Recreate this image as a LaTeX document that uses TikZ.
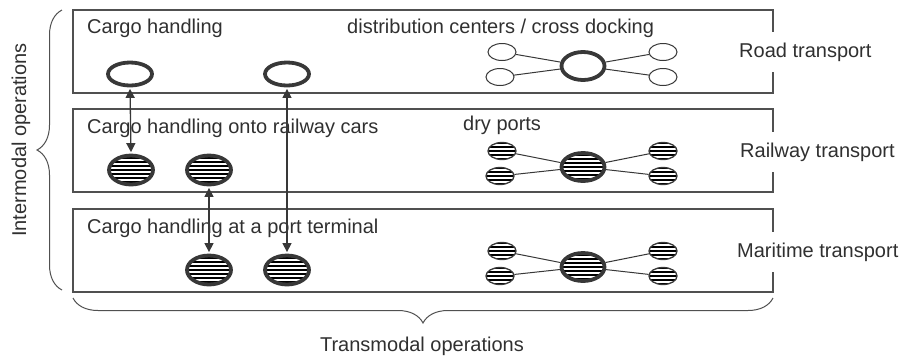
\documentclass[tikz,border=0pt]{standalone}
\usepackage{fontspec}
\setmainfont{Liberation Sans}
\usetikzlibrary{shapes.geometric,arrows.meta,decorations.pathreplacing}
\definecolor{boxgray}{HTML}{505050}
\definecolor{inkgray}{HTML}{383838}
\definecolor{txtgray}{HTML}{303030}
\tikzset{
  lbl/.style={font=\fontsize{20}{24}\selectfont, text=txtgray, inner sep=0pt},
  modebox/.style={draw=boxgray, line width=1.4pt},
  modelbl/.style={lbl, fill=white, anchor=west, minimum height=40pt, inner xsep=0pt},
  stripes/.style={path picture={
      \foreach \k in {-7,...,7}
        \draw[line width=2pt, black] (path picture bounding box.center) ++(-40pt,\k*4pt) -- ++(80pt,0pt);}},
  bigring/.style={ellipse, draw=inkgray, line width=3.8pt, fill=white, inner sep=0pt,
      minimum width=44pt, minimum height=23pt},
  bighatch/.style={ellipse, draw=inkgray, line width=3.8pt, fill=white, inner sep=0pt,
      minimum width=44pt, minimum height=29pt, stripes},
  hubring/.style={ellipse, draw=inkgray, line width=3.8pt, fill=white, inner sep=0pt,
      minimum width=43pt, minimum height=28pt},
  hubhatch/.style={hubring, stripes},
  smallring/.style={ellipse, draw=inkgray, line width=1pt, fill=white, inner sep=0pt,
      minimum width=28pt, minimum height=17pt},
  smallhatch/.style={smallring, line width=1.3pt, stripes},
  link/.style={draw=inkgray, line width=1pt},
  xfer/.style={draw=inkgray, line width=1.3pt, shorten <=1.5pt, shorten >=1.5pt,
      {Triangle[length=9pt,width=9pt]}-{Triangle[length=9pt,width=9pt]}},
  bracedeco/.style={draw=boxgray, line width=1pt, decorate, decoration={brace, amplitude=25pt}},
}
\begin{document}
\begin{tikzpicture}[x=1pt, y=-1pt]
\useasboundingbox (0,0) rectangle (908,360);

% mode boxes
\draw[modebox] (73,10) rectangle (773,93);
\draw[modebox] (73,109) rectangle (773,192);
\draw[modebox] (73,209) rectangle (773,292);

% mode labels (white background breaks the right edge)
\node[modelbl] (roadlbl) at (739,52) {Road transport};
\node[modelbl] (raillbl) at (740,152) {Railway transport};
\node[modelbl] (marlbl) at (737,252) {Maritime transport};

% headings
\node[lbl, anchor=base west] (h1) at (87,33) {Cargo handling};
\node[lbl, anchor=base west] (h2) at (347,33) {distribution centers / cross docking};
\node[lbl, anchor=base west] (h3) at (87,133) {Cargo handling onto railway cars};
\node[lbl, anchor=base west] (h4) at (463,130) {dry ports};
\node[lbl, anchor=base west] (h5) at (87,233) {Cargo handling at a port terminal};

% handling nodes
\node[bigring] (ro1) at (130,74) {};
\node[bigring] (ro2) at (287,74) {};
\node[bighatch] (ra1) at (131,170) {};
\node[bighatch] (ra2) at (209,170) {};
\node[bighatch] (ma1) at (209,270) {};
\node[bighatch] (ma2) at (287,270) {};

% transfers
\draw[xfer] (ro1.south) -- (ra1.north);
\draw[xfer] (ra2.south) -- (ma1.north);
\draw[xfer] (ro2.south) -- (ma2.north);

% road network
\node[hubring] (rc) at (583,66) {};
\node[smallring] (rlt) at (502,52) {};
\node[smallring] (rlb) at (500,77) {};
\node[smallring] (rrt) at (663,52) {};
\node[smallring] (rrb) at (663,77) {};
\draw[link] (rlt) -- (rc);
\draw[link] (rlb) -- (rc);
\draw[link] (rrt) -- (rc);
\draw[link] (rrb) -- (rc);

% rail network
\node[hubhatch] (lc) at (583,167) {};
\node[smallhatch] (llt) at (502,151) {};
\node[smallhatch] (llb) at (500,176) {};
\node[smallhatch] (lrt) at (663,151) {};
\node[smallhatch] (lrb) at (663,176) {};
\draw[link] (llt) -- (lc);
\draw[link] (llb) -- (lc);
\draw[link] (lrt) -- (lc);
\draw[link] (lrb) -- (lc);

% maritime network
\node[hubhatch] (mc) at (583,267) {};
\node[smallhatch] (mlt) at (502,251) {};
\node[smallhatch] (mlb) at (500,276) {};
\node[smallhatch] (mrt) at (663,251) {};
\node[smallhatch] (mrb) at (663,276) {};
\draw[link] (mlt) -- (mc);
\draw[link] (mlb) -- (mc);
\draw[link] (mrt) -- (mc);
\draw[link] (mrb) -- (mc);

% braces
\coordinate (lb1) at (62,290);
\coordinate (lb2) at (62,10);
\draw[bracedeco] (lb1) -- (lb2);
\coordinate (bb1) at (773,298);
\coordinate (bb2) at (73,298);
\draw[bracedeco] (bb1) -- (bb2);

\node[lbl, rotate=90] (inter) at (21,140) {Intermodal operations};
\node[lbl] (trans) at (422,346) {Transmodal operations};
\end{tikzpicture}
\end{document}
